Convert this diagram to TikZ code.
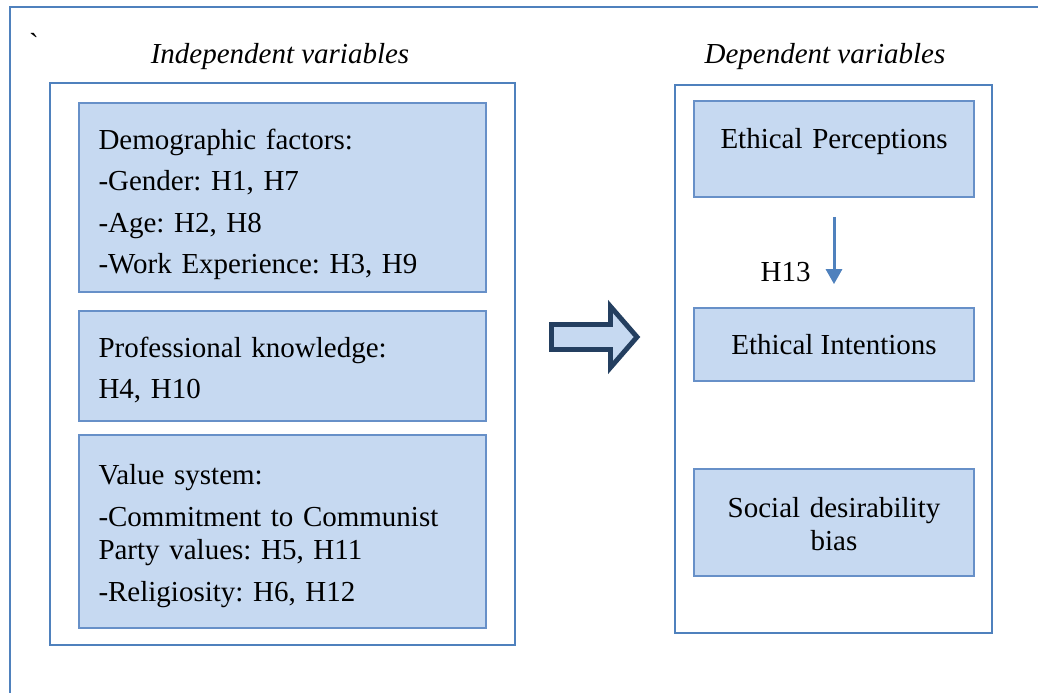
\documentclass[tikz,border=0pt]{standalone}
\usepackage{fontspec}
\setmainfont{Liberation Serif}
\newfontfamily\rawserif{Liberation Serif}[Ligatures=TeXOff]
\usetikzlibrary{positioning,arrows.meta}

\definecolor{lineblue}{HTML}{4F81BD}
\definecolor{boxline}{HTML}{6790C8}
\definecolor{boxfill}{HTML}{C6D9F1}
\definecolor{navy}{HTML}{243F60}

\newcommand{\bodyfont}{\fontsize{16.5}{19}\selectfont\frenchspacing}

\tikzset{
    container/.style={draw=lineblue, line width=0.8pt, inner sep=0pt},
    varbox/.style={draw=boxline, line width=1pt, fill=boxfill, inner sep=0pt, minimum width=8.14cm},
    rightbox/.style={varbox, minimum width=5.6cm, align=center, font=\bodyfont},
    boxtext/.style={anchor=base west, inner sep=0pt, text width=7.6cm, align=left, font=\bodyfont},
    centretext/.style={anchor=base, inner sep=0pt, text width=5.6cm, align=center, font=\bodyfont},
    heading/.style={anchor=base, inner sep=0pt, font=\bodyfont\itshape},
    link/.style={draw=lineblue, line width=1.7pt, -{Triangle[width=0.32cm,length=0.3cm]}},
}

\begin{document}
\begin{tikzpicture}[x=0.02cm, y=-0.02cm]
    \useasboundingbox (0,0) rectangle (1038,693);

    % page frame
    \draw[lineblue, line width=0.8pt] (10,693) -- (10,7) -- (1038,7);
    \node[anchor=base, inner sep=0pt, font=\rawserif\bodyfont] (tick) at (34,53) {`};

    % headings
    \node[heading] (indep) at (280,63) {Independent variables};
    \node[heading] (dep) at (825,63) {Dependent variables};

    % independent variables
    \node[container, minimum width=9.3cm, minimum height=11.24cm] (left) at (282.5,364) {};
    \node[varbox, minimum height=3.78cm] (demo) at (282.5,197.5) {};
    \node[varbox, minimum height=2.2cm] (prof) at (282.5,366) {};
    \node[varbox, minimum height=3.86cm] (vals) at (282.5,531.5) {};

    \node[boxtext] (demotext) at ([xshift=0.4cm, yshift=-0.94cm]demo.north west)
        {Demographic factors:\\[4.6pt]
         -Gender: H1, H7\\[4.6pt]
         -Age: H2, H8\\[4.6pt]
         -Work Experience: H3, H9};
    \node[boxtext] (proftext) at ([xshift=0.4cm, yshift=-0.94cm]prof.north west)
        {Professional knowledge:\\[4.6pt]
         H4, H10};
    \node[boxtext] (valstext) at ([xshift=0.4cm, yshift=-1cm]vals.north west)
        {Value system:\\[5pt]
         -Commitment to Communist\\
         Party values: H5, H11\\[5pt]
         -Religiosity: H6, H12};

    % dependent variables
    \node[container, minimum width=6.34cm, minimum height=10.96cm] (right) at (833.5,359) {};
    \node[rightbox, minimum height=1.92cm] (percep) at (834,149) {};
    \node[centretext] (perceptext) at ([yshift=-0.96cm]percep.north) {Ethical Perceptions};
    \node[rightbox, minimum height=1.46cm] (intent) at (834,344.5) {Ethical Intentions};
    \node[rightbox, minimum height=2.14cm] (social) at (834,522.5) {};
    \node[centretext] (socialtext) at ([yshift=-0.98cm]social.north) {Social desirability\\bias};

    \draw[link] ([yshift=-0.38cm]percep.south) -- ([yshift=0.46cm]intent.north);
    \node[anchor=base east, inner sep=0pt, font=\bodyfont] (h13) at ([xshift=-0.46cm, yshift=0.52cm]intent.north) {H13};

    % block arrow between the two groups
    \draw[navy, line width=2.8pt, fill=boxfill]
        (551.5,324.5) -- (610.5,324.5) -- (610.5,306.5) -- (637,337)
        -- (610.5,367.5) -- (610.5,349.5) -- (551.5,349.5) -- cycle;
\end{tikzpicture}
\end{document}
